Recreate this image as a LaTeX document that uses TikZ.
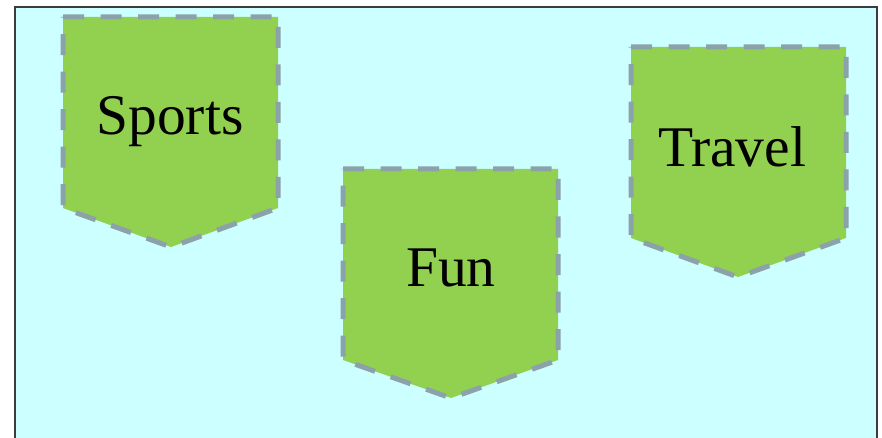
\documentclass[tikz,border=0pt]{standalone}
\usepackage{fontspec}
\setmainfont{Liberation Serif}
\definecolor{bgcyan}{RGB}{204,255,255}
\definecolor{tagfill}{RGB}{146,208,80}
\definecolor{tagline}{RGB}{140,162,170}
\definecolor{frame}{RGB}{60,60,60}
\begin{document}
\begin{tikzpicture}[x=1pt,y=-1pt,
  tag/.style={fill=tagfill,draw=tagline,line width=5pt,dash pattern=on 21pt off 16.5pt,line join=miter},
  tagtext/.style={font=\fontsize{57.5}{60}\selectfont,inner sep=0pt}]
\useasboundingbox (0,0) rectangle (882,438);
\fill[bgcyan] (15,7) rectangle (877,445);
\draw[frame,line width=1.5pt] (15,445) -- (15,7) -- (877,7) -- (877,445);
% Sports
\draw[tag] (63,17) -- (278,17) -- (278,208) -- (171,247) -- (63,208) -- cycle;
\node[tagtext] (sports) at (170,122) {Sports};
% Fun
\draw[tag] (343,169) -- (558,169) -- (558,360) -- (451,398) -- (343,360) -- cycle;
\node[tagtext] (fun) at (451,268) {Fun};
% Travel
\draw[tag] (631,47) -- (846,47) -- (846,238) -- (738,277) -- (631,238) -- cycle;
\node[tagtext] (travel) at (732,147) {Travel};
\end{tikzpicture}
\end{document}
